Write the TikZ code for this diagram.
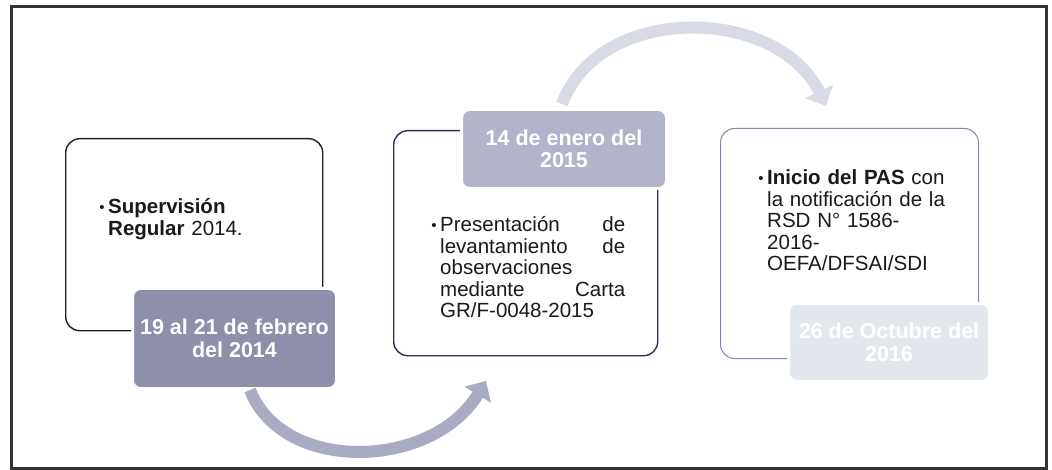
\documentclass[tikz,border=0pt]{standalone}
\usepackage{fontspec}
\setmainfont{Liberation Sans}
\usetikzlibrary{arrows.meta}
\definecolor{framec}{HTML}{333333}
\definecolor{boxa}{HTML}{1E1E24}
\definecolor{boxb}{HTML}{2E2F58}
\definecolor{boxc}{HTML}{8088AC}
\definecolor{laba}{HTML}{8D8FAB}
\definecolor{labb}{HTML}{B2B4CA}
\definecolor{labc}{HTML}{E3E8EF}
\definecolor{arra}{HTML}{A9ABC3}
\definecolor{arrb}{HTML}{D8DBE5}
\definecolor{txtc}{HTML}{1A1A1A}
\newcommand{\bul}{\llap{\raisebox{0.15ex}{\fontsize{15}{15}\selectfont •}\hspace{3.5pt}}}
\begin{document}
\begin{tikzpicture}[x=1pt,y=-1pt,
  framebox/.style={draw=framec, line width=3.2pt, inner sep=0pt, anchor=north west},
  stepbox/.style={rounded corners=14pt, inner sep=0pt, anchor=north west, fill=white},
  datelab/.style={rounded corners=8pt, inner sep=0pt, anchor=north west, draw=white, line width=3pt,
    text=white, align=center, font=\fontsize{21.5}{22.5}\selectfont\bfseries},
  bodytxt/.style={anchor=base west, inner sep=0pt, align=left, text=txtc,
    font=\fontsize{20.5}{21.5}\selectfont},
  arrowband/.style={line width=12pt, -{Triangle[length=16pt,width=30pt]}}]
\useasboundingbox (0,0) rectangle (1052,470);
\node[framebox, minimum width=1035pt, minimum height=462pt] (frame) at (10,5) {};

% step boxes
\node[stepbox, draw=boxa, line width=1.4pt, minimum width=257pt, minimum height=192pt] (b1) at (65,138) {};
\node[stepbox, draw=boxb, line width=1.4pt, minimum width=264pt, minimum height=225pt] (b2) at (393,130) {};
\node[stepbox, draw=boxc, line width=1pt, minimum width=258pt, minimum height=230pt] (b3) at (720,128) {};

% texts
\node[bodytxt, text width=210pt] (t1) at (108,214)
  {\noindent\bul\textbf{Supervisión}\\\textbf{Regular} 2014.};
\node[bodytxt, text width=185pt] (t2) at (440,232)
  {\noindent\bul Presentación\hfill de\\levantamiento\hfill de\\observaciones\\mediante\hfill Carta\\GR/F-0048-2015};
\node[bodytxt, text width=205pt] (t3) at (767,185)
  {\noindent\bul\textbf{Inicio del PAS} con\\la notificación de la\\RSD N° 1586-\\2016-\\OEFA/DFSAI/SDI};

% date labels
\node[datelab, fill=laba, minimum width=204pt, minimum height=100pt] (l1) at (131,287) {19 al 21 de febrero\\del 2014};
\node[datelab, fill=labb, minimum width=205pt, minimum height=79pt] (l2) at (460,108) {14 de enero del\\2015};
\node[datelab, fill=labc, minimum width=201pt, minimum height=78pt, text=white] (l3) at (787,302) {26 de Octubre del\\2016};

% arrows
\coordinate (a1s) at (250,390);
\coordinate (a1e) at (486,381);
\coordinate (a2s) at (562,104);
\coordinate (a2e) at (826,106);
\draw[arrowband, draw=arra] (a1s) .. controls (283,474) and (432,470) .. (a1e);
\draw[arrowband, draw=arrb] (a2s) .. controls (600,2) and (778,6) .. (a2e);
\end{tikzpicture}
\end{document}
